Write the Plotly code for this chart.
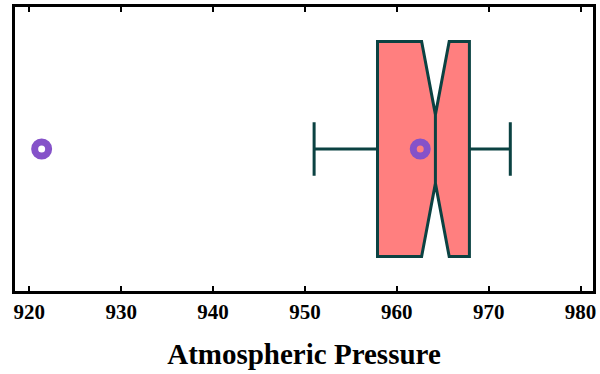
import plotly.graph_objects as go

# Data
category = ["Atmospheric Pressure"]
q1 = [957.9]
median = [964.2]
q3 = [967.9]
lower_whisker = [951.0]
upper_whisker = [972.35]
notch_span = [1.5]
mean_value = [962.55]
outliers = [921.35]
tick_values = [920, 930, 940, 950, 960, 970, 980]
tick_labels = ["920", "930", "940", "950", "960", "970", "980"]

LINE = "#0b4242"
FILL = "#ff7f7f"
PURPLE = "#8552c9"

fig = go.Figure()
fig.add_trace(go.Box(
    orientation="h",
    y=[0],
    q1=q1, median=median, q3=q3,
    lowerfence=lower_whisker, upperfence=upper_whisker,
    notchspan=notch_span,
    notched=True, notchwidth=0.34,
    whiskerwidth=0.25,
    width=0.757,
    boxpoints=False,
    fillcolor=FILL,
    line=dict(color=LINE, width=3),
    name=category[0],
    showlegend=False,
))
fig.add_trace(go.Scatter(
    x=mean_value, y=[0] * len(mean_value), mode="markers",
    marker=dict(symbol="circle-open", size=14, color=PURPLE, line=dict(width=7, color=PURPLE)),
    showlegend=False, hoverinfo="x",
))
fig.add_trace(go.Scatter(
    x=outliers, y=[0] * len(outliers), mode="markers",
    marker=dict(symbol="circle-open", size=14, color=PURPLE, line=dict(width=7, color=PURPLE)),
    showlegend=False, hoverinfo="x",
))

fig.update_layout(
    width=600, height=374,
    margin=dict(l=15, r=4, t=5, b=83),
    paper_bgcolor="white", plot_bgcolor="white",
    font=dict(family="Liberation Serif, Times New Roman, serif", color="black"),
    xaxis=dict(
        range=[918.45, 981.35],
        tickvals=tick_values, ticktext=tick_labels,
        ticks="inside", ticklen=5, tickwidth=2, tickcolor="black",
        showline=True, linewidth=3, linecolor="black", mirror="ticks",
        showgrid=False, zeroline=False,
        tickfont=dict(size=21, family="Liberation Serif", weight="bold"),
        title=dict(text="<b>Atmospheric Pressure</b>", font=dict(size=29, family="Liberation Serif"), standoff=21),
    ),
    yaxis=dict(
        range=[-0.5, 0.5],
        showticklabels=False, ticks="",
        showline=True, linewidth=3, linecolor="black", mirror=True,
        showgrid=False, zeroline=False,
    ),
)

fig.write_html("out.html")
